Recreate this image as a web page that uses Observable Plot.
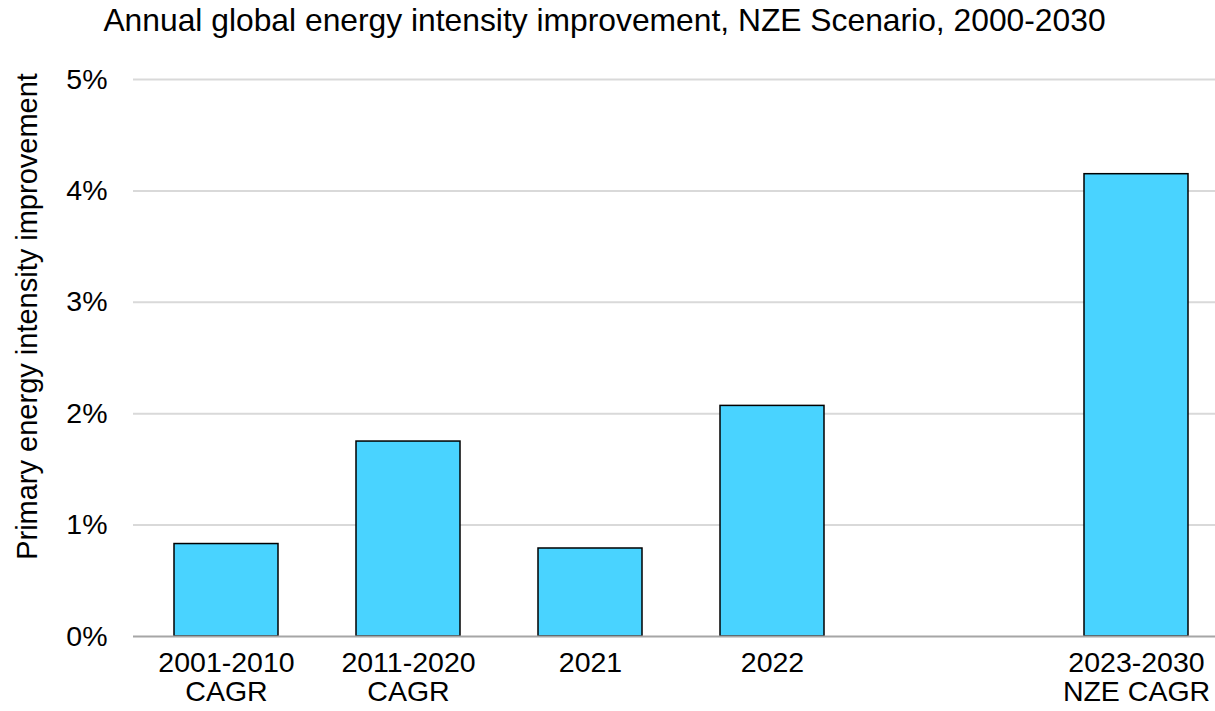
<!DOCTYPE html>
<html>
<head>
<meta charset="utf-8">
<script src="https://cdn.jsdelivr.net/npm/d3@7"></script>
<script src="https://cdn.jsdelivr.net/npm/@observablehq/plot@0.6"></script>
<style>
  html, body { margin: 0; padding: 0; background: #fff; }
  #title {
    width: 1215px; height: 40px; line-height: 40px; box-sizing: border-box;
    padding-right: 6px; text-align: center;
    font-family: "Liberation Sans", Arial, sans-serif; font-size: 31.8px; color: #000;
    white-space: nowrap;
  }
  #chart svg { display: block; }
</style>
</head>
<body>
<div id="title">Annual global energy intensity improvement, NZE Scenario, 2000-2030</div>
<div id="chart"></div>
<script>
const categories = ["2001-2010\nCAGR", "2011-2020\nCAGR", "2021", "2022", "2023-2030\nNZE CAGR"];
const values = [0.83, 1.75, 0.79, 2.07, 4.15];
const gapSlot = " ";
const xDomain = [categories[0], categories[1], categories[2], categories[3], gapSlot, categories[4]];
const yTicks = [0, 1, 2, 3, 4, 5];
const yLabel = "Primary energy intensity improvement";

const data = categories.map((c, i) => ({category: c, value: values[i]}));

const chart = Plot.plot({
  width: 1215,
  height: 671,
  marginTop: 39,
  marginBottom: 75,
  marginLeft: 133,
  marginRight: 0,
  style: {fontFamily: '"Liberation Sans", Arial, sans-serif', fontSize: "28.5px", color: "#000", background: "#fff"},
  x: {domain: xDomain, range: [133.75, 1228.75], paddingInner: 0.427, paddingOuter: 0.2135, label: null},
  y: {domain: [0, 5], label: null},
  marks: [
    Plot.ruleY(yTicks.filter(d => d > 0), {stroke: "#d9d9d9", strokeWidth: 2}),
    Plot.barY(data, {x: "category", y: "value", fill: "#49D3FF", stroke: "#000", strokeWidth: 1.5}),
    Plot.ruleY([0], {stroke: "#a6a6a6", strokeWidth: 2}),
    Plot.axisY({ticks: yTicks, tickSize: 0, tickPadding: 26, tickFormat: d => d + "%", label: null, fontSize: 28.5}),
    Plot.axisX({tickSize: 0, tickPadding: 15, tickFormat: d => d, label: null, lineHeight: 1.02, fontSize: 28.5}),
    Plot.text([yLabel], {frameAnchor: "left", rotate: -90, dx: -105.5, dy: -41.5, fontSize: 29, textAnchor: "middle", lineAnchor: "middle", fill: "#000"})
  ]
});
document.getElementById("chart").appendChild(chart);
</script>
</body>
</html>
